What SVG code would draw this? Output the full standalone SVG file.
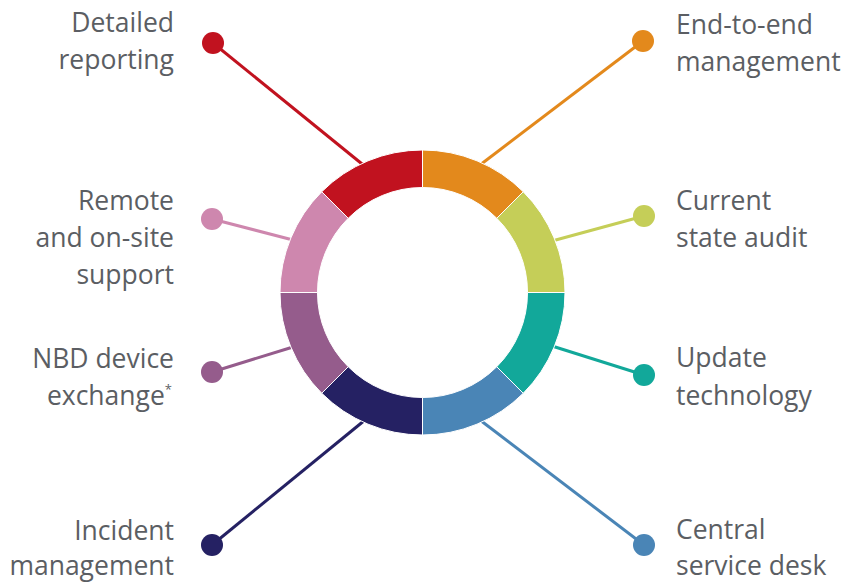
<svg xmlns="http://www.w3.org/2000/svg" width="842" height="582" viewBox="0 0 842 582">
<style>
.lbl{font-family:"Open Sans","Liberation Sans",sans-serif;font-size:26.5px;fill:#5b5e63}
.l{text-anchor:end}
.seg{stroke:#ffffff;stroke-width:1}
.con{stroke-width:3;fill:none}
</style>
<rect width="842" height="582" fill="#ffffff"/>
<g id="connectors">
<line class="con" x1="213" y1="43" x2="367" y2="168" stroke="#c1121f"/>
<line class="con" x1="643" y1="41" x2="480" y2="165" stroke="#e3891c"/>
<line class="con" x1="644" y1="216" x2="552" y2="241" stroke="#c5ce58"/>
<line class="con" x1="644" y1="375" x2="552" y2="346" stroke="#12a89a"/>
<line class="con" x1="644" y1="545" x2="480" y2="420" stroke="#4a85b6"/>
<line class="con" x1="212" y1="545" x2="365" y2="420" stroke="#252163"/>
<line class="con" x1="212" y1="372" x2="293" y2="347" stroke="#955c8c"/>
<line class="con" x1="212" y1="219" x2="293" y2="240" stroke="#ce87ae"/>
</g>
<g id="end-to-end">
<path class="seg" fill="#e3891c" d="M422.5,150 A142.5,142.5 0 0 1 523.26,191.74 L496.75,218.25 A105,105 0 0 0 422.5,187.5 Z"/>
<circle cx="643" cy="41" r="11" fill="#e3891c"/>
<text class="lbl" x="676" y="34">End-to-end</text>
<text class="lbl" x="676" y="71">management</text>
</g>
<g id="current-state">
<path class="seg" fill="#c5ce58" d="M523.26,191.74 A142.5,142.5 0 0 1 565,292.5 L527.5,292.5 A105,105 0 0 0 496.75,218.25 Z"/>
<circle cx="644" cy="216" r="11" fill="#c5ce58"/>
<text class="lbl" x="676" y="210">Current</text>
<text class="lbl" x="676" y="247">state audit</text>
</g>
<g id="update-technology">
<path class="seg" fill="#12a89a" d="M565,292.5 A142.5,142.5 0 0 1 523.26,393.26 L496.75,366.75 A105,105 0 0 0 527.5,292.5 Z"/>
<circle cx="644" cy="375" r="11" fill="#12a89a"/>
<text class="lbl" x="676" y="367">Update</text>
<text class="lbl" x="676" y="405">technology</text>
</g>
<g id="service-desk">
<path class="seg" fill="#4a85b6" d="M523.26,393.26 A142.5,142.5 0 0 1 422.5,435 L422.5,397.5 A105,105 0 0 0 496.75,366.75 Z"/>
<circle cx="644" cy="545" r="11" fill="#4a85b6"/>
<text class="lbl" x="676" y="539">Central</text>
<text class="lbl" x="676" y="575">service desk</text>
</g>
<g id="incident-management">
<path class="seg" fill="#252163" d="M422.5,435 A142.5,142.5 0 0 1 321.74,393.26 L348.25,366.75 A105,105 0 0 0 422.5,397.5 Z"/>
<circle cx="212" cy="545" r="11" fill="#252163"/>
<text class="lbl l" x="174" y="540">Incident</text>
<text class="lbl l" x="174" y="575">management</text>
</g>
<g id="nbd-exchange">
<path class="seg" fill="#955c8c" d="M321.74,393.26 A142.5,142.5 0 0 1 280,292.5 L317.5,292.5 A105,105 0 0 0 348.25,366.75 Z"/>
<circle cx="212" cy="372" r="11" fill="#955c8c"/>
<text class="lbl l" x="174" y="368">NBD device</text>
<text class="lbl l" x="172" y="405">exchange<tspan font-size="13" dy="-11">*</tspan></text>
</g>
<g id="remote-support">
<path class="seg" fill="#ce87ae" d="M280,292.5 A142.5,142.5 0 0 1 321.74,191.74 L348.25,218.25 A105,105 0 0 0 317.5,292.5 Z"/>
<circle cx="212" cy="219" r="11" fill="#ce87ae"/>
<text class="lbl l" x="174" y="210">Remote</text>
<text class="lbl l" x="174" y="247">and on-site</text>
<text class="lbl l" x="174" y="284">support</text>
</g>
<g id="detailed-reporting">
<path class="seg" fill="#c1121f" d="M321.74,191.74 A142.5,142.5 0 0 1 422.5,150 L422.5,187.5 A105,105 0 0 0 348.25,218.25 Z"/>
<circle cx="213" cy="43" r="11" fill="#c1121f"/>
<text class="lbl l" x="174" y="32">Detailed</text>
<text class="lbl l" x="174" y="69">reporting</text>
</g>
</svg>
